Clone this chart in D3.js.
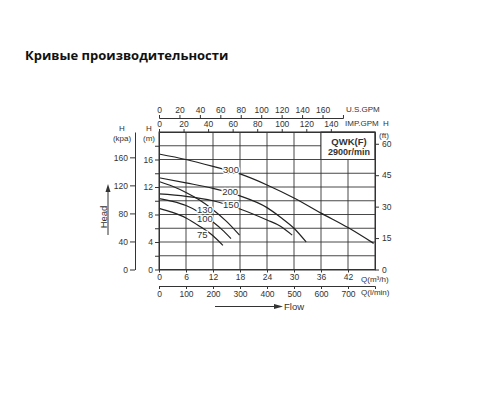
<!DOCTYPE html>
<html>
<head>
<meta charset="utf-8">
<script src="https://cdn.jsdelivr.net/npm/d3@7"></script>
<style>
  body { margin: 0; background: #fff; }
  .axis text { font-family: "Liberation Sans", Arial, sans-serif; font-size: 8.5px; fill: #333; }
  .axis path, .axis line { stroke: #333; }
  .lbl { font-family: "Liberation Sans", Arial, sans-serif; font-size: 8px; fill: #333; }
</style>
</head>
<body>
<script>
var w = 500;
var h = 400;

// flow axis ticks (m3/h) and companion scales
var flowTicks = [0, 6, 12, 18, 24, 30, 36, 42];
var lpmTicks = [0, 100, 200, 300, 400, 500, 600, 700];
var usTicks = [0, 20, 40, 60, 80, 100, 120, 140, 160];
var impTicks = [0, 20, 40, 60, 80, 100, 120, 140];
var kpaTicks = [0, 40, 80, 120, 160];
var mTicks = [0, 4, 8, 12, 16];
var ftTicks = [0, 15, 30, 45, 60];

// pump curves, [Q m3/h, H m]
var curve300 = [[0, 16.8], [6, 16.0], [12, 15.0], [18, 13.9], [24, 12.3], [30, 10.4], [36, 8.2], [42, 6.1], [47.7, 3.8]];
var curve200 = [[0, 13.35], [6, 12.6], [12, 11.8], [18, 10.7], [24, 9.0], [27, 7.6], [30, 6.0], [32.7, 4.0]];
var curve150 = [[0, 11.0], [6, 10.65], [12, 10.0], [18, 8.8], [24, 7.2], [27, 6.3], [29.6, 5.0]];
var curve130 = [[0, 12.8], [3, 12.1], [6, 11.2], [9, 10.1], [12, 8.7], [15, 7.0], [17.9, 5.0]];
var curve100 = [[0, 10.3], [3, 9.9], [6, 9.3], [9, 8.3], [12, 6.9], [14, 5.8], [16, 4.5]];
var curve75 = [[0, 8.9], [3, 8.3], [6, 7.5], [9, 6.3], [12, 4.9], [14.2, 3.5]];

var curveNames = ["300", "200", "150", "130", "100", "75"];
var curveData = [curve300, curve200, curve150, curve130, curve100, curve75];
// where each curve's name sits, [Q, H]
var labelAt = [[16, 14.6], [15.8, 11.3], [16, 9.5], [10.2, 8.8], [10.2, 7.35], [9.6, 5.15]];

var qMax = 48, hMax = 20;

var x = d3.scaleLinear().domain([0, qMax]).range([159, 375]);
var y = d3.scaleLinear().domain([0, hMax]).range([269.5, 132]);

var kpa = d3.scaleLinear().domain([0, hMax * 9.80665]).range(y.range());
var ft = d3.scaleLinear().domain([0, hMax * 3.28084]).range(y.range());
var usGpm = d3.scaleLinear().domain([0, 180]).range([x(0), x(180 / 4.40287)]);
var impGpm = d3.scaleLinear().domain([0, qMax * 3.66615]).range(x.range());
var lpm = d3.scaleLinear().domain([0, 800]).range(x.range());

var svg = d3.select("body").append("svg")
  .attr("width", w)
  .attr("height", h);

// title
svg.append("text")
  .attr("x", 25)
  .attr("y", 59.5)
  .attr("font-family", "'Open Sans', sans-serif")
  .attr("font-weight", "bold")
  .attr("font-size", 13)
  .attr("fill", "#111")
  .text("Кривые производительности");

// grid
var grid = svg.append("g").attr("stroke", "#333").attr("stroke-width", 0.9);
grid.selectAll(".vg")
  .data(d3.range(6, qMax, 6))
  .enter().append("line")
  .attr("x1", d => x(d)).attr("x2", d => x(d))
  .attr("y1", y(0)).attr("y2", y(hMax));
grid.selectAll(".hg")
  .data(d3.range(2, hMax, 2))
  .enter().append("line")
  .attr("x1", x(0)).attr("x2", x(qMax))
  .attr("y1", d => y(d)).attr("y2", d => y(d));

// model box in the top right cell
svg.append("rect")
  .attr("x", x(36)).attr("y", y(hMax))
  .attr("width", x(qMax) - x(36)).attr("height", y(16) - y(hMax))
  .attr("fill", "#fff").attr("stroke", "#333").attr("stroke-width", 0.9);
svg.append("text").attr("class", "lbl")
  .attr("x", (x(36) + x(qMax)) / 2 + 1).attr("y", 145)
  .attr("text-anchor", "middle").style("font-size", "9.5px").attr("font-weight", "bold")
  .text("QWK(F)");
svg.append("text").attr("class", "lbl")
  .attr("x", (x(36) + x(qMax)) / 2 + 1).attr("y", 155)
  .attr("text-anchor", "middle").style("font-size", "9px").attr("font-weight", "bold")
  .text("2900r/min");

// curves
var line = d3.line()
  .x(d => x(d[0]))
  .y(d => y(d[1]))
  .curve(d3.curveMonotoneX);

svg.selectAll(".curve")
  .data(curveData)
  .enter().append("path")
  .attr("d", line)
  .attr("fill", "none")
  .attr("stroke", "#222")
  .attr("stroke-width", 1.2);

// speed names break the curve, as in the printed chart
svg.selectAll(".cname")
  .data(curveNames)
  .enter().append("text")
  .attr("class", "lbl")
  .attr("x", (d, i) => x(labelAt[i][0]))
  .attr("y", (d, i) => y(labelAt[i][1]) + 3.5)
  .attr("text-anchor", "middle")
  .style("font-size", "9.5px")
  .attr("stroke", "#fff")
  .attr("stroke-width", 2.5)
  .attr("paint-order", "stroke")
  .text(d => d);

// plot frame
svg.append("rect")
  .attr("x", x(0)).attr("y", y(hMax))
  .attr("width", x(qMax) - x(0)).attr("height", y(0) - y(hMax))
  .attr("fill", "none").attr("stroke", "#333").attr("stroke-width", 1);

// bottom axes
svg.append("g").attr("class", "axis")
  .attr("transform", "translate(0," + y(0) + ")")
  .call(d3.axisBottom(x).tickValues(flowTicks).tickSize(3).tickSizeOuter(0).tickPadding(1));
svg.append("g").attr("class", "axis")
  .attr("transform", "translate(0,286)")
  .call(d3.axisBottom(lpm).tickValues(lpmTicks).tickSize(3).tickSizeOuter(3).tickPadding(2));

// top axes
svg.append("g").attr("class", "axis")
  .attr("transform", "translate(0,118)")
  .call(d3.axisTop(usGpm).tickValues(usTicks).tickSize(3).tickSizeOuter(3).tickPadding(2));
svg.append("g").attr("class", "axis")
  .attr("transform", "translate(0," + y(hMax) + ")")
  .call(d3.axisTop(impGpm).tickValues(impTicks).tickSize(3).tickSizeOuter(0).tickPadding(2));

// left axes
svg.append("g").attr("class", "axis")
  .attr("transform", "translate(" + x(0) + ",0)")
  .call(d3.axisLeft(y).tickValues(d3.range(0, hMax, 2)).tickSize(4).tickSizeOuter(0).tickPadding(2)
    .tickFormat(d => mTicks.indexOf(d) >= 0 ? d : ""));
svg.append("g").attr("class", "axis")
  .attr("transform", "translate(135,0)")
  .call(d3.axisLeft(kpa).tickValues(kpaTicks).tickSize(5).tickSizeOuter(0).tickPadding(2));

// right axis
svg.append("g").attr("class", "axis")
  .attr("transform", "translate(" + x(qMax) + ",0)")
  .call(d3.axisRight(ft).tickValues(ftTicks).tickSize(4).tickSizeOuter(0).tickPadding(3));

// unit labels
var units = [
  ["U.S.GPM", 346, 112, "start"],
  ["IMP.GPM", 345, 126, "start"],
  ["H", 386, 126, "middle"],
  ["(ft)", 384, 138, "middle"],
  ["H", 122, 131, "middle"],
  ["(kpa)", 122, 141, "middle"],
  ["H", 149, 131, "middle"],
  ["(m)", 149, 141, "middle"],
  ["Q(m³/h)", 361, 282, "start"],
  ["Q(l/min)", 361, 295, "start"]
];
svg.selectAll(".unit")
  .data(units)
  .enter().append("text")
  .attr("class", "lbl")
  .attr("x", d => d[1]).attr("y", d => d[2])
  .attr("text-anchor", d => d[3])
  .text(d => d[0]);

// flow arrow
svg.append("line")
  .attr("x1", 215).attr("x2", 276).attr("y1", 306.5).attr("y2", 306.5)
  .attr("stroke", "#333").attr("stroke-width", 1);
svg.append("path")
  .attr("d", "M274,304 L283,306.5 L274,309 Z").attr("fill", "#333");
svg.append("text").attr("class", "lbl")
  .attr("x", 284).attr("y", 310).style("font-size", "9.5px")
  .text("Flow");

// head arrow
svg.append("line")
  .attr("x1", 108).attr("x2", 108).attr("y1", 235).attr("y2", 190)
  .attr("stroke", "#333").attr("stroke-width", 1);
svg.append("path")
  .attr("d", "M105.5,192 L108,184 L110.5,192 Z").attr("fill", "#333");
svg.append("text").attr("class", "lbl")
  .attr("transform", "translate(106.5,217) rotate(-90)")
  .attr("text-anchor", "middle").style("font-size", "9.5px")
  .text("Head");
</script>
</body>
</html>
